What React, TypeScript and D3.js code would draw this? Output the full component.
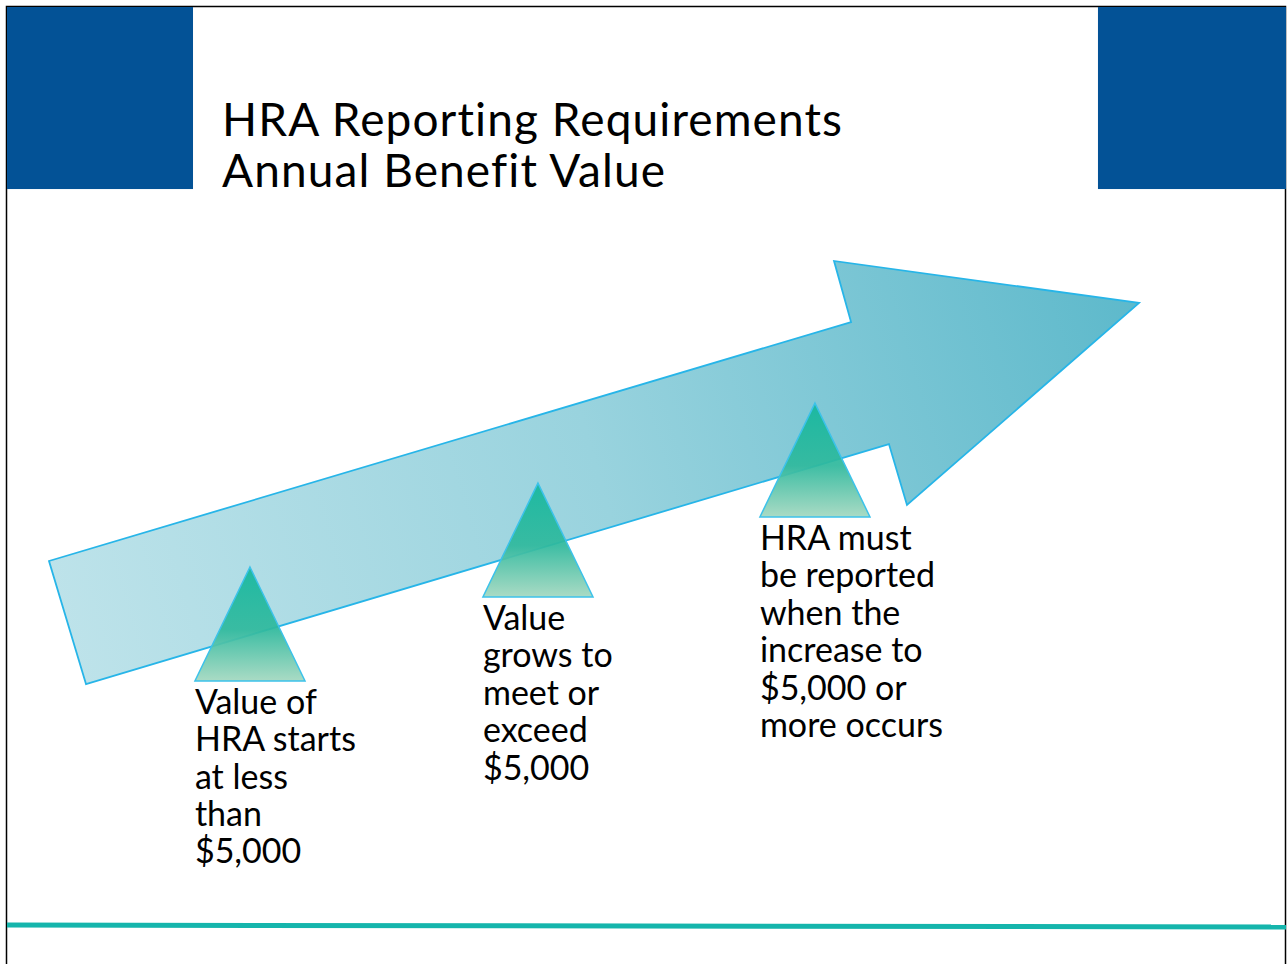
import React from "react";
import { scaleLinear, line, curveLinearClosed } from "d3";

// slide is a 10 x 7.5 inch page, all values below are in inches
const titleLines = ["HRA Reporting Requirements", "Annual Benefit Value"];

const arrowX = [0.625, 0.336, 6.602, 6.469, 8.852, 7.039, 6.898];
const arrowY = [5.297, 4.336, 2.469, 1.992, 2.32, 3.898, 3.422];

const stageApexX = [1.906, 4.156, 6.32];
const stageApexY = [4.383, 3.727, 3.102];
const stageLabels = [
  ["Value of", "HRA starts", "at less", "than", "$5,000"],
  ["Value", "grows to", "meet or", "exceed", "$5,000"],
  ["HRA must", "be reported", "when the", "increase to", "$5,000 or", "more occurs"],
];

const W = 1288;
const H = 964;
const FONT = "Lato, 'Open Sans', sans-serif";
const BLUE = "#035296";

function App() {
  const x = scaleLinear().domain([0, 10]).range([6, 1286]);
  const y = scaleLinear().domain([0, 7.5]).range([6, 966]);

  const triHalf = 0.43;
  const triH = 0.89;

  const shape = line<[number, number]>()
    .x((d) => x(d[0]))
    .y((d) => y(d[1]))
    .curve(curveLinearClosed);

  const arrowPts = arrowX.map((v, i) => [v, arrowY[i]] as [number, number]);

  return (
    <svg
      width={W}
      height={H}
      style={{ position: "absolute", left: 0, top: 0, background: "#fff" }}
    >
      <defs>
        <linearGradient
          id="arrowFill"
          gradientUnits="userSpaceOnUse"
          x1={x(0.336)}
          y1={y(4.8)}
          x2={x(8.852)}
          y2={y(2.3)}
        >
          <stop offset="0" stopColor="#bee3ea" />
          <stop offset="0.5" stopColor="#99d3de" />
          <stop offset="1" stopColor="#5db9cb" />
        </linearGradient>
        <linearGradient id="triFill" x1="0" y1="0" x2="0" y2="1">
          <stop offset="0" stopColor="#14b79d" />
          <stop offset="0.55" stopColor="#30b99d" />
          <stop offset="1" stopColor="#a3d8c0" />
        </linearGradient>
      </defs>

      {/* slide frame */}
      <rect x={6.5} y={6.5} width={1279} height={980} fill="#fff" stroke="#000" strokeWidth={1.5} />

      {/* corner blocks */}
      <rect x={x(0.008)} y={y(0.008)} width={x(1.461) - x(0.008)} height={y(1.43) - y(0.008)} fill={BLUE} />
      <rect x={x(8.531)} y={y(0.008)} width={x(10) - x(8.531)} height={y(1.43) - y(0.008)} fill={BLUE} />

      {/* title */}
      {titleLines.map((t, i) => (
        <text
          key={t}
          x={x(1.6875)}
          y={y(1.016 + i * 0.398)}
          fontFamily={FONT}
          fontSize={46}
          letterSpacing={1.1}
          fill="#000"
        >
          {t}
        </text>
      ))}

      {/* big arrow */}
      <path d={shape(arrowPts) ?? ""} fill="url(#arrowFill)" stroke="#27b5e8" strokeWidth={1.8} strokeLinejoin="miter" />

      {/* stage markers */}
      {stageApexX.map((ax, i) => {
        const ay = stageApexY[i];
        const pts: [number, number][] = [
          [ax, ay],
          [ax + triHalf, ay + triH],
          [ax - triHalf, ay + triH],
        ];
        return (
          <g key={i}>
            <path
              d={shape(pts) ?? ""}
              fill="url(#triFill)"
              fillOpacity={0.93}
              stroke="#3cc2ea"
              strokeWidth={1.5}
            />
            <text fontFamily={FONT} fontSize={34} fill="#000">
              {stageLabels[i].map((l, j) => (
                <tspan key={j} x={x(ax - triHalf)} y={y(ay + triH + 0.258 + j * 0.292)}>
                  {l}
                </tspan>
              ))}
            </text>
          </g>
        );
      })}

      {/* bottom rule */}
      <line x1={x(0.008)} y1={y(7.18)} x2={x(10)} y2={y(7.195)} stroke="#15b5ac" strokeWidth={5} />
    </svg>
  );
}

export default App;
